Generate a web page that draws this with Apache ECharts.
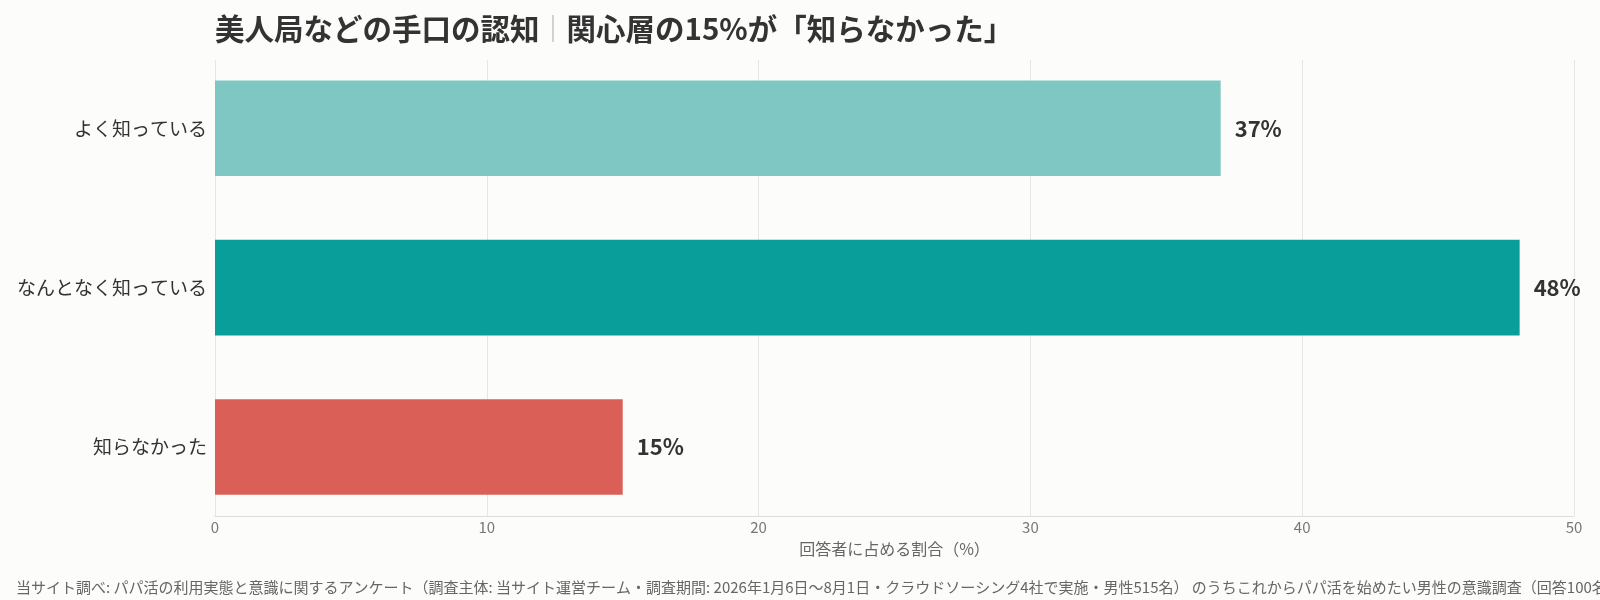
<!DOCTYPE html>
<html>
<head>
<meta charset="utf-8">
<script src="https://cdn.jsdelivr.net/npm/echarts@6/dist/echarts.min.js"></script>
<style>
html,body{margin:0;padding:0;background:#fcfcfa;}
#c{width:1600px;height:600px;}
</style>
</head>
<body>
<div id="c"></div>
<script>
const categories = ['よく知っている', 'なんとなく知っている', '知らなかった'];
const values = [37, 48, 15];
const barColors = ['#7ec7c3', '#0a9e9b', '#d95f57'];
const xTicks = [0, 10, 20, 30, 40, 50];
const titleMain = '美人局などの手口の認知';
const titleSub = '関心層の15%が「知らなかった」';
const axisName = '回答者に占める割合（%）';
const footer = '当サイト調べ: パパ活の利用実態と意識に関するアンケート（調査主体: 当サイト運営チーム・調査期間: 2026年1月6日〜8月1日・クラウドソーシング4社で実施・男性515名） のうちこれからパパ活を始めたい男性の意識調査（回答100名）';

const FONT = '"Noto Sans CJK JP", "Noto Sans", sans-serif';
const chart = echarts.init(document.getElementById('c'));
chart.setOption({
  backgroundColor: '#fcfcfa',
  animation: false,
  textStyle: { fontFamily: FONT },
  title: {
    left: 210, top: 9,
    text: '{a|' + titleMain + '}{s|｜}{a|' + titleSub + '}',
    textStyle: {
      rich: {
        a: { fontSize: 29.5, fontWeight: 'bold', color: '#333', fontFamily: FONT },
        s: { fontSize: 27, color: '#bbb', fontFamily: FONT }
      }
    }
  },
  graphic: [{
    type: 'text', left: 16, top: 580,
    style: { text: footer, fill: '#666', font: '15px ' + FONT }
  }],
  grid: [
    { left: 215, right: 26, top: 60, bottom: 84 },
    { left: 215, right: 26, top: 48.6, bottom: 73.3 }
  ],
  xAxis: [
    {
      gridIndex: 0, type: 'value', min: xTicks[0], max: xTicks[xTicks.length - 1], interval: 10,
      axisLine: { show: true, lineStyle: { color: '#dddddd' } },
      axisTick: { show: false },
      axisLabel: { color: '#777', fontSize: 15, margin: 4, fontFamily: FONT },
      splitLine: { show: true, lineStyle: { color: '#e6e6e6' } },
      name: axisName, nameLocation: 'middle', nameGap: 25,
      nameTextStyle: { color: '#666', fontSize: 16, fontFamily: FONT }
    },
    {
      gridIndex: 1, type: 'value', min: xTicks[0], max: xTicks[xTicks.length - 1], interval: 10,
      show: false, splitLine: { show: false }
    }
  ],
  yAxis: [
    { gridIndex: 0, type: 'category', data: categories, show: false },
    {
      gridIndex: 1, type: 'category', data: categories, inverse: true,
      axisLine: { show: false }, axisTick: { show: false },
      axisLabel: { color: '#333', fontSize: 19, margin: 8, fontFamily: FONT }
    }
  ],
  series: [{
    type: 'bar', xAxisIndex: 1, yAxisIndex: 1,
    barWidth: '60%',
    data: values.map((v, i) => ({ value: v, itemStyle: { color: barColors[i] } })),
    label: {
      show: true, position: 'right', distance: 14,
      formatter: p => p.value + '%',
      color: '#333', fontSize: 22, fontWeight: 'bold', fontFamily: FONT
    }
  }]
});
</script>
</body>
</html>
